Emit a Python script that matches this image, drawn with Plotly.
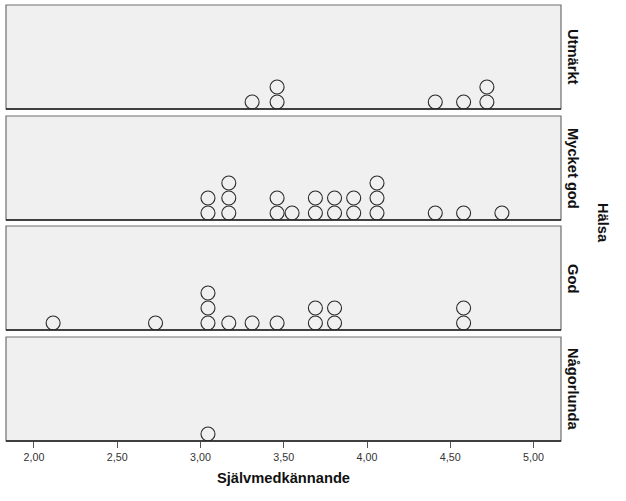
import plotly.graph_objects as go

# ---- data ----
categories = ["Utmärkt", "Mycket god", "God", "Någorlunda"]
utmarkt = [3.31, 3.46, 3.46, 4.41, 4.58, 4.72, 4.72]
mycket_god = [3.045, 3.045, 3.17, 3.17, 3.17, 3.46, 3.46, 3.55, 3.69, 3.69,
              3.805, 3.805, 3.92, 3.92, 4.06, 4.06, 4.06, 4.41, 4.58, 4.81]
god = [2.115, 2.73, 3.045, 3.045, 3.045, 3.17, 3.31, 3.46, 3.69, 3.69,
       3.805, 3.805, 4.58, 4.58]
nagorlunda = [3.045]
series = [utmarkt, mycket_god, god, nagorlunda]
tick_values = [2.0, 2.5, 3.0, 3.5, 4.0, 4.5, 5.0]
x_title = "Självmedkännande"
facet_title = "Hälsa"

W, H = 626, 501
left_px, right_px = 6, 561
panels_px = [(5, 109), (116, 220), (226, 330), (337, 441)]

fig = go.Figure()

def stack(vals):
    counts = {}
    ys = []
    for v in vals:
        k = counts.get(v, 0)
        ys.append(k)
        counts[v] = k + 1
    return ys

shapes = []
annotations = []
for i, (cat, vals) in enumerate(zip(categories, series)):
    n = i + 1
    xa = "x" if n == 1 else f"x{n}"
    ya = "y" if n == 1 else f"y{n}"
    fig.add_trace(go.Scatter(
        x=vals, y=stack(vals), mode="markers", xaxis=xa, yaxis=ya,
        marker=dict(symbol="circle-open", size=14, color="#2a2a2a",
                    line=dict(width=1.1, color="#2a2a2a")),
        showlegend=False, hoverinfo="x"))
    top, bot = panels_px[i]
    y0 = (H - bot) / H
    y1 = (H - top) / H
    x0 = left_px / W
    x1 = right_px / W
    last = (i == len(categories) - 1)
    xaxis = dict(domain=[x0, x1], range=[1.832, 5.165], anchor=ya,
                 showgrid=False, zeroline=False,
                 showline=False,
                 tickvals=tick_values, tickformat=".2f",
                 showticklabels=last,
                 ticks="outside" if last else "", ticklen=6, tickwidth=1.3,
                 tickcolor="#555555",
                 tickfont=dict(family="Liberation Sans, Arial", size=10.7, color="#333333"))
    if n > 1:
        xaxis["matches"] = "x"
    if last:
        xaxis["title"] = dict(text=f"<b>{x_title}</b>", standoff=10,
                              font=dict(family="Liberation Sans, Arial", size=14.7, color="#111111"))
    yaxis = dict(domain=[y0, y1], range=[-7 / 15, (bot - top - 7) / 15], anchor=xa,
                 showgrid=False, zeroline=False, showticklabels=False, showline=False,
                 fixedrange=True)
    fig.layout["xaxis" if n == 1 else f"xaxis{n}"] = xaxis
    fig.layout["yaxis" if n == 1 else f"yaxis{n}"] = yaxis
    # frame (top, left, right) in gray, bottom in near-black
    shapes.append(dict(type="rect", xref="paper", yref="paper", x0=x0, x1=x1, y0=y0, y1=y1,
                       line=dict(color="#6e6e6e", width=1.2), fillcolor="rgba(0,0,0,0)", layer="above"))
    shapes.append(dict(type="line", xref="paper", yref="paper", x0=x0, x1=x1, y0=y0, y1=y0,
                       line=dict(color="#1a1a1a", width=1.4), layer="above"))
    annotations.append(dict(text=f"<b>{cat}</b>", xref="paper", yref="paper",
                            x=573 / W, y=(y0 + y1) / 2, textangle=90, showarrow=False,
                            xanchor="center", yanchor="middle",
                            font=dict(family="Liberation Sans, Arial", size=14.7, color="#111111")))

annotations.append(dict(text=f"<b>{facet_title}</b>", xref="paper", yref="paper",
                        x=603 / W, y=(H - 223) / H, textangle=90, showarrow=False,
                        xanchor="center", yanchor="middle",
                        font=dict(family="Liberation Sans, Arial", size=14.7, color="#111111")))

fig.update_layout(width=W, height=H, margin=dict(l=0, r=0, t=0, b=0),
                  paper_bgcolor="white", plot_bgcolor="#f0f0f0",
                  separators=", ", shapes=shapes, annotations=annotations)

fig.write_html("out.html", config={"displayModeBar": False},
               post_script="document.body.style.margin='0';document.body.style.overflow='hidden';")
